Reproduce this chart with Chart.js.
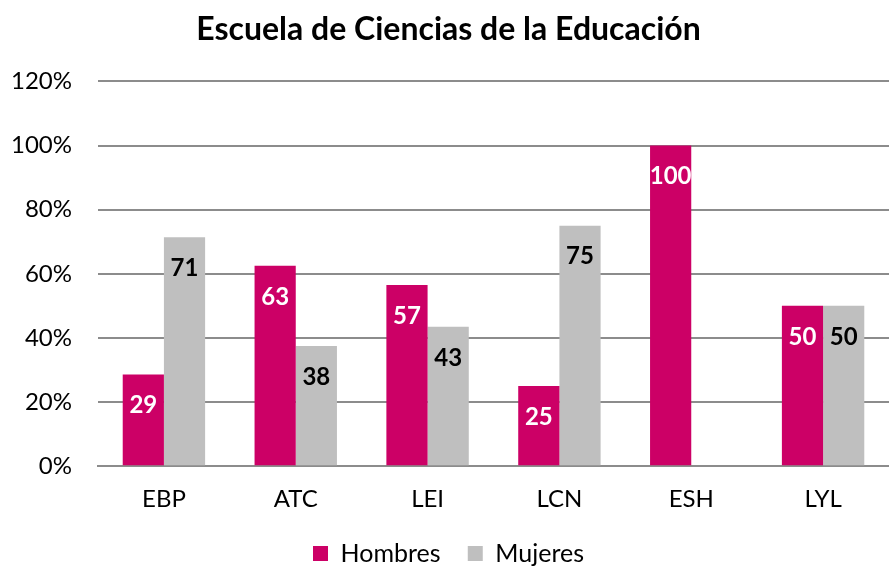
<!DOCTYPE html>
<html>
<head>
<meta charset="utf-8">
<script src="https://cdn.jsdelivr.net/npm/chart.js@4/dist/chart.umd.min.js"></script>
<style>
  html, body { margin: 0; padding: 0; background: #fff; }
  #wrap { width: 889px; height: 566px; }
</style>
</head>
<body>
<div id="wrap"><canvas id="chart" width="889" height="566"></canvas></div>
<script>
const categorias = ['EBP', 'ATC', 'LEI', 'LCN', 'ESH', 'LYL'];
const hombres = [28.6, 62.5, 56.52, 25, 100, 50];
const mujeres = [71.4, 37.5, 43.48, 75, 0, 50];
const tituloTexto = 'Escuela de Ciencias de la Educación';

const FUENTE = "'Lato', 'Open Sans', sans-serif";

// etiquetas dentro de la barra, cerca del extremo superior
const etiquetasBarras = {
    id: 'etiquetasBarras',
    afterDatasetsDraw(chart) {
        const ctx = chart.ctx;
        ctx.save();
        ctx.font = `bold 24px ${FUENTE}`;
        ctx.textAlign = 'center';
        ctx.textBaseline = 'middle';
        chart.data.datasets.forEach((ds, i) => {
            const meta = chart.getDatasetMeta(i);
            meta.data.forEach((bar, j) => {
                const v = ds.data[j];
                if (!v) return;
                ctx.fillStyle = i === 0 ? '#ffffff' : '#000000';
                ctx.fillText(Math.round(v), bar.x, bar.y + 31);
            });
        });
        ctx.restore();
    }
};

new Chart(document.getElementById('chart').getContext('2d'), {
    type: 'bar',
    data: {
        labels: categorias,
        datasets: [
            { label: 'Hombres', data: hombres, backgroundColor: '#cc0066', barPercentage: 1, categoryPercentage: 0.625 },
            { label: 'Mujeres', data: mujeres, backgroundColor: '#bfbfbf', barPercentage: 1, categoryPercentage: 0.625 }
        ]
    },
    options: {
        responsive: false, animation: false,
        layout: { padding: { left: 8, right: 0, top: 8, bottom: -10 } },
        scales: {
            x: {
                grid: { display: false, drawTicks: false },
                border: { color: '#8c8c8c', width: 2 },
                ticks: { color: '#000', font: { family: FUENTE, size: 24 }, padding: 19 }
            },
            y: {
                min: 0, max: 120,
                afterFit: (scale) => { scale.width = 90; },
                grid: { color: '#8c8c8c', lineWidth: 2, drawTicks: false },
                border: { display: false },
                ticks: { stepSize: 20, color: '#000', font: { family: FUENTE, size: 24 }, padding: 26, callback: v => v + '%' }
            }
        },
        plugins: {
            title: { display: true, text: tituloTexto, color: '#000', font: { family: FUENTE, size: 32, weight: 'bold' }, padding: { top: 2, bottom: 33 } },
            legend: {
                position: 'bottom',
                labels: {
                    color: '#000', boxWidth: 15, boxHeight: 15, font: { family: FUENTE, size: 25 }, padding: 8,
                    generateLabels: (chart) => {
                        const items = Chart.defaults.plugins.legend.labels.generateLabels(chart);
                        items.forEach((it, i) => { if (i < items.length - 1) it.text += '   '; });
                        return items;
                    }
                }
            },
            tooltip: { enabled: false }
        }
    },
    plugins: [etiquetasBarras]
});
</script>
</body>
</html>
